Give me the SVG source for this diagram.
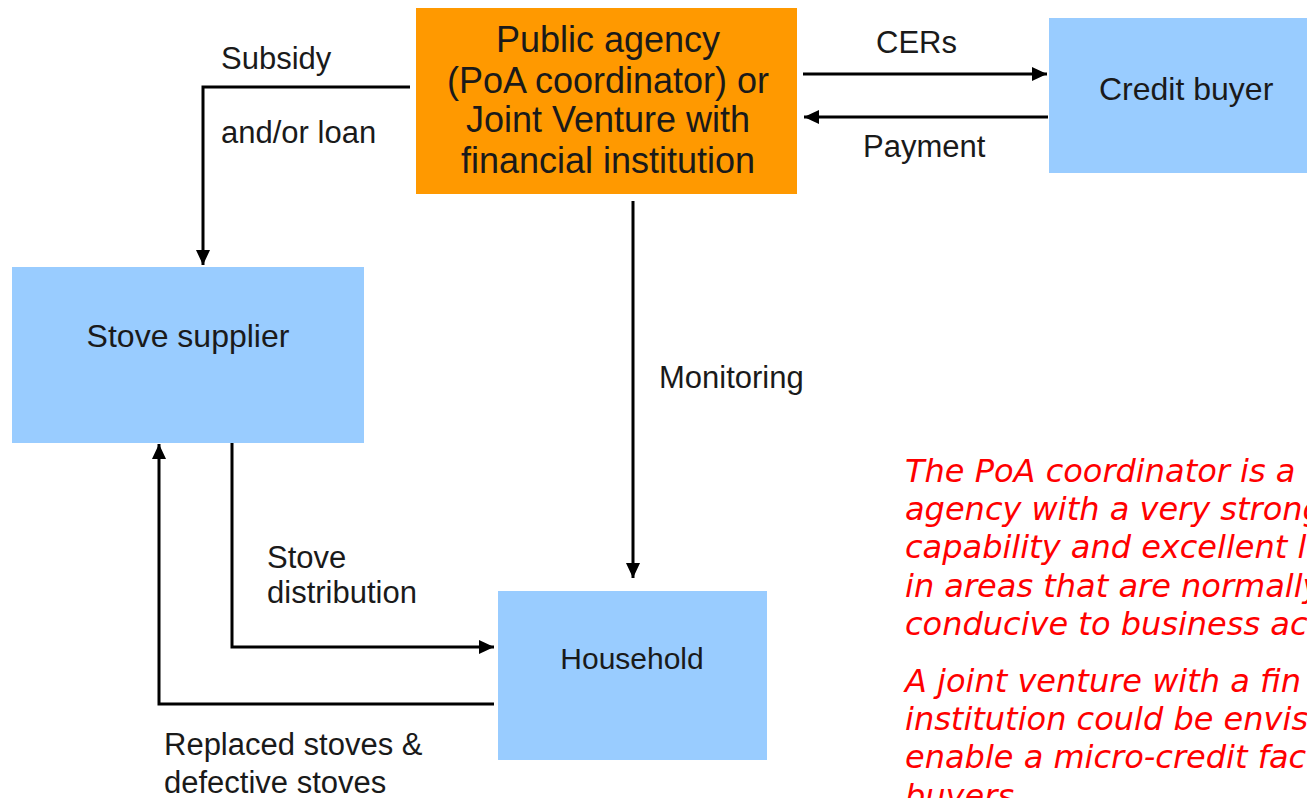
<svg xmlns="http://www.w3.org/2000/svg" width="1307" height="798" viewBox="0 0 1307 798">
<style>
.box{fill:#99CCFF;}
.org{fill:#FF9900;}
.t{font-family:"Liberation Sans",Arial,sans-serif;font-size:31px;fill:#1a1a1a;}
.big{font-size:36px;}
.c{text-anchor:middle;}
.ln{fill:none;stroke:#000;stroke-width:3;}
.red{font-family:"DejaVu Sans",Verdana,sans-serif;font-style:italic;font-size:32px;fill:#FF0000;}
</style>
<defs>
<marker id="ah" markerUnits="userSpaceOnUse" markerWidth="16" markerHeight="16" refX="15" refY="8" orient="auto">
<path d="M0,1 L15,8 L0,15 z" fill="#000"/>
</marker>
</defs>
<rect width="1307" height="798" fill="#fff"/>
<g id="node-public-agency">
<rect class="org" x="416" y="8" width="381" height="186"/>
<text class="t big c" x="608" y="52">Public agency</text>
<text class="t big c" x="608" y="93">(PoA coordinator) or</text>
<text class="t big c" x="608" y="132">Joint Venture with</text>
<text class="t big c" x="608" y="173">financial institution</text>
</g>
<g id="node-credit-buyer">
<rect class="box" x="1049" y="18" width="270" height="155"/>
<text class="t" x="1099" y="100" style="font-size:32px">Credit buyer</text>
</g>
<g id="node-stove-supplier">
<rect class="box" x="12" y="267" width="352" height="176"/>
<text class="t c" x="188" y="347" style="font-size:32px">Stove supplier</text>
</g>
<g id="node-household">
<rect class="box" x="498" y="591" width="269" height="169"/>
<text class="t c" x="632" y="669" style="font-size:30px">Household</text>
</g>
<g id="connectors">
<path class="ln" d="M803,74 H1047" marker-end="url(#ah)"/>
<path class="ln" d="M1048,117 H804" marker-end="url(#ah)"/>
<path class="ln" d="M410,87 H203 V265" marker-end="url(#ah)"/>
<path class="ln" d="M633,201 V578" marker-end="url(#ah)"/>
<path class="ln" d="M232,443 V647 H494" marker-end="url(#ah)"/>
<path class="ln" d="M494,704 H159 V444" marker-end="url(#ah)"/>
<text class="t" x="876" y="53">CERs</text>
<text class="t" x="863" y="157">Payment</text>
<text class="t" x="221" y="69">Subsidy</text>
<text class="t" x="221" y="143">and/or loan</text>
<text class="t" x="659" y="388">Monitoring</text>
<text class="t" x="267" y="568">Stove</text>
<text class="t" x="267" y="603">distribution</text>
<text class="t" x="164" y="755">Replaced stoves &amp;</text>
<text class="t" x="164" y="793">defective stoves</text>
</g>
<g id="note">
<text class="red" x="905" y="482">The PoA coordinator is a</text>
<text class="red" x="905" y="520">agency with a very strong</text>
<text class="red" x="905" y="558">capability and excellent lo</text>
<text class="red" x="905" y="597">in areas that are normally</text>
<text class="red" x="905" y="635">conducive to business ac</text>
<text class="red" x="905" y="692">A joint venture with a fin</text>
<text class="red" x="905" y="730">institution could be envis</text>
<text class="red" x="905" y="768">enable a micro-credit fac</text>
<text class="red" x="905" y="807">buyers</text>
</g>
</svg>
